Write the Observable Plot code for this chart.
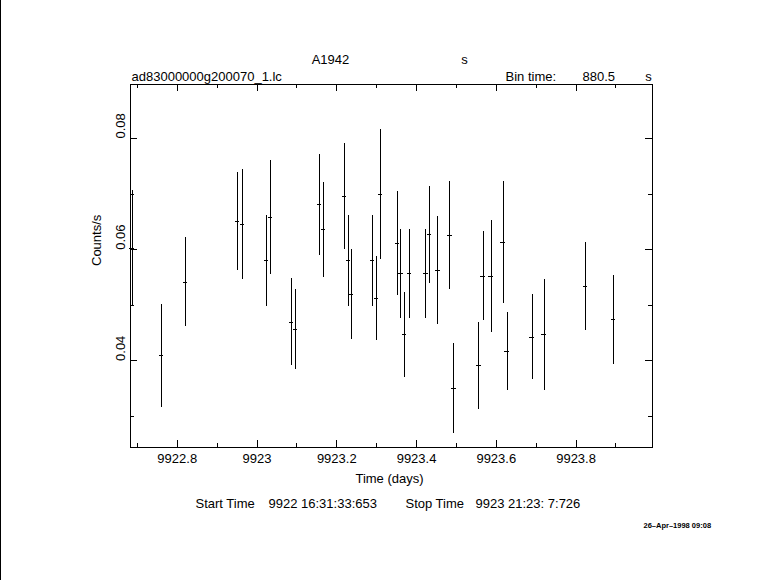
<!DOCTYPE html>
<html>
<head>
<meta charset="utf-8">
<script src="https://cdn.jsdelivr.net/npm/d3@7"></script>
<script src="https://cdn.jsdelivr.net/npm/@observablehq/plot@0.6"></script>
<style>
  html, body { margin: 0; padding: 0; background: #fff; }
  #wrap { position: relative; width: 781px; height: 580px; overflow: hidden; }
  #edge { position: absolute; left: 0; top: 0; width: 1px; height: 580px; background: #000; }
</style>
</head>
<body>
<div id="wrap"><div id="edge"></div></div>
<script>
// ---- data ----
const times = [9922.6866, 9922.7599, 9922.8216, 9922.9520, 9922.9646, 9923.0248, 9923.0348, 9923.0875, 9923.0975, 9923.1578, 9923.1678, 9923.2205, 9923.2305, 9923.2380, 9923.2907, 9923.3008, 9923.3108, 9923.3534, 9923.3610, 9923.3710, 9923.3835, 9923.4237, 9923.4337, 9923.4538, 9923.4839, 9923.4939, 9923.5566, 9923.5667, 9923.5868, 9923.6169, 9923.6269, 9923.6896, 9923.7197, 9923.8226, 9923.8928];
const rates = [0.0603, 0.0409, 0.0542, 0.0651, 0.0645, 0.0580, 0.0658, 0.0470, 0.0456, 0.0681, 0.0636, 0.0696, 0.0580, 0.0519, 0.0580, 0.0512, 0.0700, 0.0611, 0.0557, 0.0447, 0.0557, 0.0557, 0.0627, 0.0563, 0.0625, 0.0350, 0.0391, 0.0552, 0.0552, 0.0613, 0.0417, 0.0443, 0.0447, 0.0534, 0.0474];
const errors = [0.0104, 0.0092, 0.0080, 0.0088, 0.0099, 0.0082, 0.0102, 0.0079, 0.0072, 0.0091, 0.0085, 0.0096, 0.0082, 0.0081, 0.0082, 0.0076, 0.0117, 0.0093, 0.0080, 0.0076, 0.0080, 0.0080, 0.0087, 0.0097, 0.0097, 0.0081, 0.0078, 0.0080, 0.0101, 0.0109, 0.0070, 0.0077, 0.0100, 0.0079, 0.0080];
const binTime = 880.5; // seconds

const xMajor = [9922.8, 9923.0, 9923.2, 9923.4, 9923.6, 9923.8];
const xTickLabels = ["9922.8", "9923", "9923.2", "9923.4", "9923.6", "9923.8"];
const xMinor = [9922.7, 9922.9, 9923.1, 9923.3, 9923.5, 9923.7, 9923.9];
const yMajor = [0.04, 0.06, 0.08];
const yTickLabels = ["0.04", "0.06", "0.08"];
const yMinor = [0.03, 0.05, 0.07];

const xDomain = [9922.6828, 9923.9917];
const yDomain = [0.02443, 0.08973];

const titleText = "A1942";
const titleUnit = "s";
const fileName = "ad83000000g200070_1.lc";
const binLabel = "Bin time:";
const binValue = "880.5";
const binUnit = "s";
const xLabel = "Time (days)";
const yLabel = "Counts/s";
const startLabel = "Start Time";
const startValue = "9922 16:31:33:653";
const stopLabel = "Stop Time";
const stopValue = "9923 21:23: 7:726";
const dateStamp = "26\u2013Apr\u20131998 09:08";

// ---- table built from arrays ----
const halfBin = binTime / 86400 / 2;
const rows = times.map((t, i) => ({t, v: rates[i], e: errors[i]}));

const W = 781, H = 580;
const mL = 130, mR = 129, mT = 84, mB = 133;
const innerW = W - mL - mR, innerH = H - mT - mB;
const major = 7, minor = 4;
const line = {stroke: "black", strokeWidth: 1, shapeRendering: "crispEdges"};

const txt = (s, o) => Plot.text([s], {text: d => d, fill: "black", ...o});

const chart = Plot.plot({
  width: W,
  height: H,
  marginLeft: mL, marginRight: mR, marginTop: mT, marginBottom: mB,
  style: {fontFamily: "Liberation Sans, Arial, sans-serif", fontSize: "13px", background: "transparent", color: "black"},
  x: {domain: xDomain, axis: null},
  y: {domain: yDomain, axis: null},
  marks: [
    Plot.frame(line),
    // inward ticks, all four sides
    Plot.tickX(xMajor, {x: d => d, insetTop: innerH - major, ...line}),
    Plot.tickX(xMajor, {x: d => d, insetBottom: innerH - major, ...line}),
    Plot.tickX(xMinor, {x: d => d, insetTop: innerH - minor, ...line}),
    Plot.tickX(xMinor, {x: d => d, insetBottom: innerH - minor, ...line}),
    Plot.tickY(yMajor, {y: d => d, insetRight: innerW - major, ...line}),
    Plot.tickY(yMajor, {y: d => d, insetLeft: innerW - major, ...line}),
    Plot.tickY(yMinor, {y: d => d, insetRight: innerW - minor, ...line}),
    Plot.tickY(yMinor, {y: d => d, insetLeft: innerW - minor, ...line}),
    // tick labels
    Plot.text(xMajor, {x: d => d, text: (d, i) => xTickLabels[i], frameAnchor: "bottom", lineAnchor: "bottom", dy: 15, fill: "black"}),
    Plot.text(yMajor, {y: d => d, text: (d, i) => yTickLabels[i], frameAnchor: "left", rotate: -90, lineAnchor: "bottom", dx: -6, fill: "black"}),
    // data: error bars and bin-width bars
    Plot.ruleX(rows, {x: "t", y1: d => d.v - d.e, y2: d => d.v + d.e, ...line}),
    Plot.ruleY(rows, {y: "v", x1: d => d.t - halfBin, x2: d => d.t + halfBin, ...line}),
    // axis titles
    txt(xLabel, {frameAnchor: "bottom", lineAnchor: "bottom", dx: -2, dy: 35}),
    txt(yLabel, {frameAnchor: "left", rotate: -90, lineAnchor: "bottom", dx: -30}),
    // header
    txt(titleText, {frameAnchor: "top-left", textAnchor: "middle", lineAnchor: "bottom", dx: 200, dy: -21}),
    txt(titleUnit, {frameAnchor: "top-left", textAnchor: "middle", lineAnchor: "bottom", dx: 334, dy: -21}),
    txt(fileName, {frameAnchor: "top-left", textAnchor: "start", lineAnchor: "bottom", dx: 1, dy: -4}),
    txt(binLabel, {frameAnchor: "top-left", textAnchor: "start", lineAnchor: "bottom", dx: 375, dy: -4}),
    txt(binValue, {frameAnchor: "top-left", textAnchor: "start", lineAnchor: "bottom", dx: 452, dy: -4}),
    txt(binUnit, {frameAnchor: "top-left", textAnchor: "middle", lineAnchor: "bottom", dx: 518, dy: -4}),
    // footer
    txt(startLabel, {frameAnchor: "bottom-left", textAnchor: "start", lineAnchor: "bottom", dx: 65, dy: 60}),
    txt(startValue, {frameAnchor: "bottom-left", textAnchor: "start", lineAnchor: "bottom", dx: 138, dy: 60}),
    txt(stopLabel, {frameAnchor: "bottom-left", textAnchor: "start", lineAnchor: "bottom", dx: 275, dy: 60}),
    txt(stopValue, {frameAnchor: "bottom-left", textAnchor: "start", lineAnchor: "bottom", dx: 345, dy: 60}),
    txt(dateStamp, {frameAnchor: "bottom-left", textAnchor: "start", lineAnchor: "bottom", dx: 513, dy: 80, fontSize: 7.5, fontWeight: "bold"})
  ]
});
chart.style.whiteSpace = "pre";
document.getElementById("wrap").appendChild(chart);
</script>
</body>
</html>
